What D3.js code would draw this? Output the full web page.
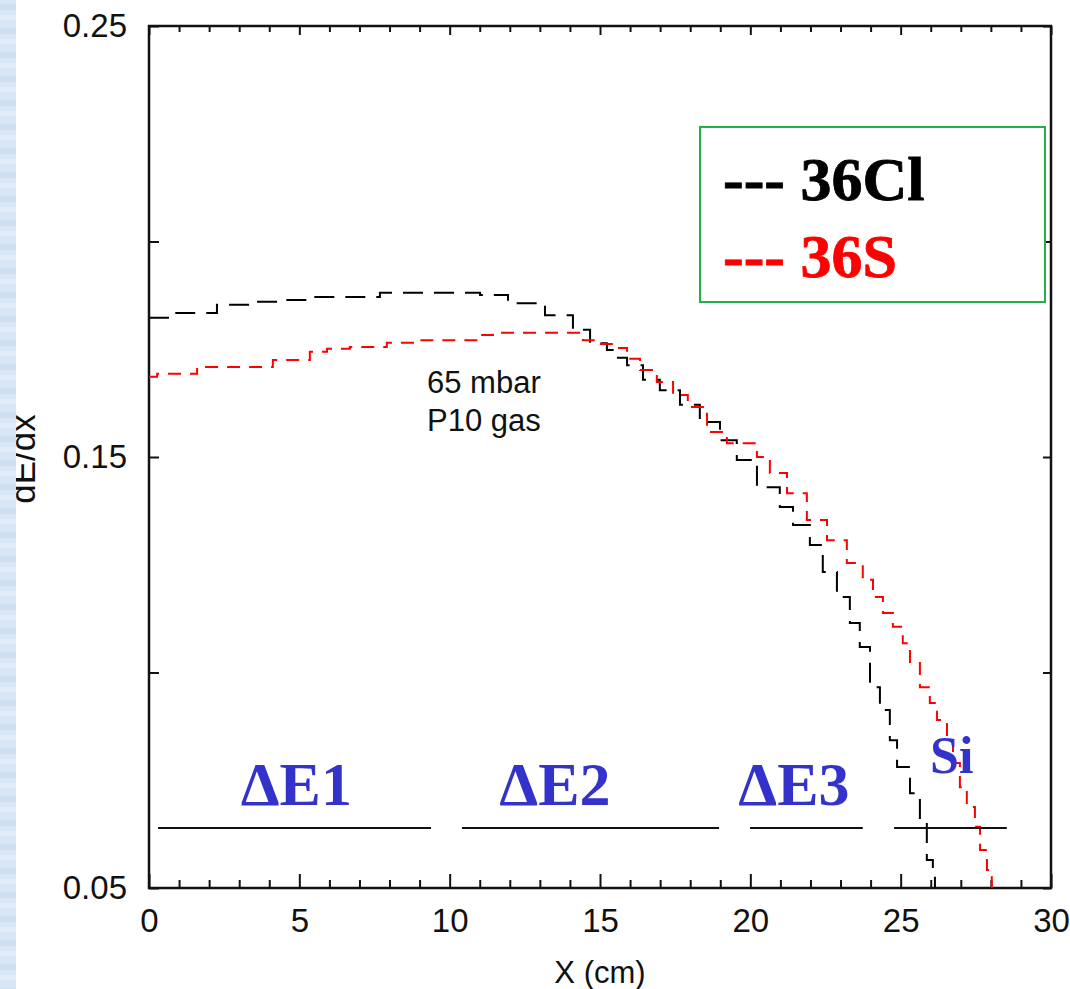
<!DOCTYPE html>
<html>
<head>
<meta charset="utf-8">
<script src="https://cdn.jsdelivr.net/npm/d3@7"></script>
<style>
  body { margin: 0; background: #fff; }
  svg { display: block; }
</style>
</head>
<body>
<script>
// Axis ticks
const xMajor = [0, 5, 10, 15, 20, 25, 30];
const yTicks = [0.05, 0.10, 0.15, 0.20, 0.25];
const yTickLabels = ["0.05", "", "0.15", "", "0.25"];

// 36Cl curve (x in cm, dE/dx) - step starts
const clX = [0, 0.86, 2.26, 3.36, 4.36, 5.29, 7.68, 11.01, 11.94, 13.17, 14.10, 14.67, 15.23, 15.56, 15.90,
             16.43, 16.99, 17.66, 18.32, 18.99, 19.55, 20.22, 20.98, 21.42, 21.98, 22.41, 22.88, 23.31,
             23.64, 23.98, 24.31, 24.64, 24.88, 25.31, 25.64, 25.87, 26.07, 26.14];
const clY = [0.1823, 0.1834, 0.1853, 0.1860, 0.1864, 0.1871, 0.1881, 0.1876, 0.1857, 0.1829, 0.1795, 0.1764,
             0.1748, 0.1730, 0.1713, 0.1679, 0.1655, 0.1621, 0.1581, 0.1539, 0.1493, 0.1430, 0.1384, 0.1342,
             0.1296, 0.1233, 0.1175, 0.1115, 0.1059, 0.0966, 0.0913, 0.0843, 0.0781, 0.0720, 0.0651, 0.0565,
             0.0526, 0.0500];

// 36S curve
const sX = [0, 0.27, 1.60, 4.12, 5.35, 5.92, 6.68, 7.91, 8.78, 11.01, 11.44, 14.43, 14.95, 15.43, 15.90, 16.33, 16.89,
            17.43, 17.92, 18.56, 19.22, 20.22, 20.65, 21.22, 21.88, 22.55, 23.21, 23.74, 24.08, 24.41, 24.74,
            25.07, 25.31, 25.64, 25.97, 26.21, 26.54, 26.74, 26.97, 27.20, 27.47, 27.64, 27.87, 28.03];
const sY = [0.1686, 0.1693, 0.1709, 0.1725, 0.1744, 0.1751, 0.1755, 0.1765, 0.1771, 0.1783, 0.1788, 0.1771, 0.1762,
            0.1753, 0.1728, 0.1702, 0.1674, 0.1644, 0.1616, 0.1558, 0.1532, 0.1500, 0.1463, 0.1416, 0.1354, 0.1307,
            0.1254, 0.1215, 0.1175, 0.1138, 0.1106, 0.1068, 0.1022, 0.0966, 0.0929, 0.0890, 0.0843, 0.0790,
            0.0734, 0.0688, 0.0642, 0.0588, 0.0542, 0.0500];

const seriesNames = ["36Cl", "36S"];

// detector regions
const regionNames = ["ΔE1", "ΔE2", "ΔE3", "Si"];
const regionStart = [0.30, 10.41, 19.99, 24.78];
const regionEnd = [9.38, 18.96, 23.74, 28.53];
const regionLevel = 0.0639;
const regionLabelX = [4.9, 13.5, 21.45, 26.7];
const regionLabelY = [0.0693, 0.0693, 0.0693, 0.0767];

const width = 1070, height = 989;
const margin = {top: 26, right: 19, bottom: 101, left: 149};
const sansFont = "'Liberation Sans', Arial, sans-serif";
const serifFont = "'Liberation Serif', 'Times New Roman', serif";

const svg = d3.select("body").append("svg")
    .attr("width", width)
    .attr("height", height);

svg.append("rect").attr("width", width).attr("height", height).attr("fill", "#fff");

const xScale = d3.scaleLinear().domain([0, 30]).range([margin.left, width - margin.right]);
const yScale = d3.scaleLinear().domain([0.05, 0.25]).range([height - margin.bottom, margin.top]);

const xMinor = d3.range(0, 31, 1).filter(v => v % 5 !== 0);

// bottom axis
svg.append("g")
    .attr("transform", "translate(0," + (height - margin.bottom) + ")")
    .call(d3.axisBottom(xScale).tickValues(xMinor).tickSizeInner(-8).tickSizeOuter(0).tickFormat(""));
svg.append("g")
    .attr("class", "xaxis")
    .attr("transform", "translate(0," + (height - margin.bottom) + ")")
    .call(d3.axisBottom(xScale).tickValues(xMajor).tickSizeInner(-14).tickSizeOuter(0).tickPadding(21));

// top axis
svg.append("g")
    .attr("transform", "translate(0," + margin.top + ")")
    .call(d3.axisTop(xScale).tickValues(xMinor).tickSizeInner(-6).tickSizeOuter(0).tickFormat(""));
svg.append("g")
    .attr("transform", "translate(0," + margin.top + ")")
    .call(d3.axisTop(xScale).tickValues(xMajor).tickSizeInner(-9).tickSizeOuter(0).tickFormat(""));

// left + right axes
svg.append("g")
    .attr("class", "yaxis")
    .attr("transform", "translate(" + margin.left + ",0)")
    .call(d3.axisLeft(yScale).tickValues(yTicks).tickSizeInner(-10).tickSizeOuter(0).tickPadding(22)
        .tickFormat((d, i) => yTickLabels[i]));
svg.append("g")
    .attr("transform", "translate(" + (width - margin.right) + ",0)")
    .call(d3.axisRight(yScale).tickValues(yTicks).tickSizeInner(-8).tickSizeOuter(0).tickFormat(""));

svg.selectAll(".domain").remove();
svg.selectAll(".tick line").attr("stroke", "#111").attr("stroke-width", 2);
svg.selectAll(".xaxis text, .yaxis text")
    .attr("font-family", sansFont)
    .attr("font-size", 33)
    .attr("fill", "#111");

// frame
svg.append("rect")
    .attr("x", xScale(0))
    .attr("y", yScale(0.25))
    .attr("width", xScale(30) - xScale(0))
    .attr("height", yScale(0.05) - yScale(0.25))
    .attr("fill", "none")
    .attr("stroke", "#111")
    .attr("stroke-width", 2.5);

// curves
const line = d3.line()
    .x(d => xScale(d[0]))
    .y(d => yScale(d[1]))
    .curve(d3.curveStepAfter);

svg.append("path")
    .datum(clX.map((v, i) => [v, clY[i]]))
    .attr("d", line)
    .attr("fill", "none")
    .attr("stroke", "#000")
    .attr("stroke-width", 2)
    .attr("stroke-dasharray", "20,11");

svg.append("path")
    .datum(sX.map((v, i) => [v, sY[i]]))
    .attr("d", line)
    .attr("fill", "none")
    .attr("stroke", "#ff0000")
    .attr("stroke-width", 2)
    .attr("stroke-dasharray", "13,9");

// region bars and labels
regionNames.forEach((name, i) => {
    svg.append("line")
        .attr("x1", xScale(regionStart[i]))
        .attr("x2", xScale(regionEnd[i]))
        .attr("y1", yScale(regionLevel))
        .attr("y2", yScale(regionLevel))
        .attr("stroke", "#111")
        .attr("stroke-width", 2);
    svg.append("text")
        .attr("x", xScale(regionLabelX[i]))
        .attr("y", yScale(regionLabelY[i]))
        .attr("text-anchor", "middle")
        .attr("font-family", serifFont)
        .attr("font-weight", "bold")
        .attr("font-size", name === "Si" ? 52 : 62)
        .attr("fill", "#3333cc")
        .text(name);
});

// gas note
svg.append("text")
    .attr("x", 427).attr("y", 393)
    .attr("font-family", sansFont).attr("font-size", 31).attr("fill", "#111")
    .text("65 mbar");
svg.append("text")
    .attr("x", 427).attr("y", 431)
    .attr("font-family", sansFont).attr("font-size", 31).attr("fill", "#111")
    .text("P10 gas");

// legend
svg.append("rect")
    .attr("x", 700).attr("y", 127)
    .attr("width", 345).attr("height", 175)
    .attr("fill", "#fff")
    .attr("stroke", "#22b04b")
    .attr("stroke-width", 2);

const legendColors = ["#000", "#ff0000"];
seriesNames.forEach((name, i) => {
    svg.append("text")
        .attr("x", 723)
        .attr("y", 200 + i * 77)
        .attr("font-family", serifFont)
        .attr("font-weight", "bold")
        .attr("font-size", 62)
        .attr("fill", legendColors[i])
        .attr("stroke", legendColors[i])
        .attr("stroke-width", 0.8)
        .text("--- " + name);
});

// axis titles
svg.append("text")
    .attr("x", xScale(15))
    .attr("y", 983)
    .attr("text-anchor", "middle")
    .attr("font-family", sansFont).attr("font-size", 31).attr("fill", "#111")
    .text("X (cm)");

svg.append("text")
    .attr("transform", "translate(35,459) rotate(-90)")
    .attr("text-anchor", "middle")
    .attr("font-family", sansFont).attr("font-size", 35).attr("fill", "#111")
    .text("dE/dx");

// slide background strip on the left
const defs = svg.append("defs");
const pat = defs.append("pattern")
    .attr("id", "tex").attr("width", 8).attr("height", 24).attr("patternUnits", "userSpaceOnUse");
pat.append("rect").attr("width", 8).attr("height", 24).attr("fill", "#d9e6f6");
pat.append("rect").attr("x", 0).attr("y", 4).attr("width", 8).attr("height", 6).attr("fill", "#cfdff2");
pat.append("rect").attr("x", 0).attr("y", 15).attr("width", 8).attr("height", 5).attr("fill", "#e2ecf9");
svg.append("rect")
    .attr("x", 0).attr("y", 0).attr("width", 16).attr("height", height)
    .attr("fill", "url(#tex)");
</script>
</body>
</html>
